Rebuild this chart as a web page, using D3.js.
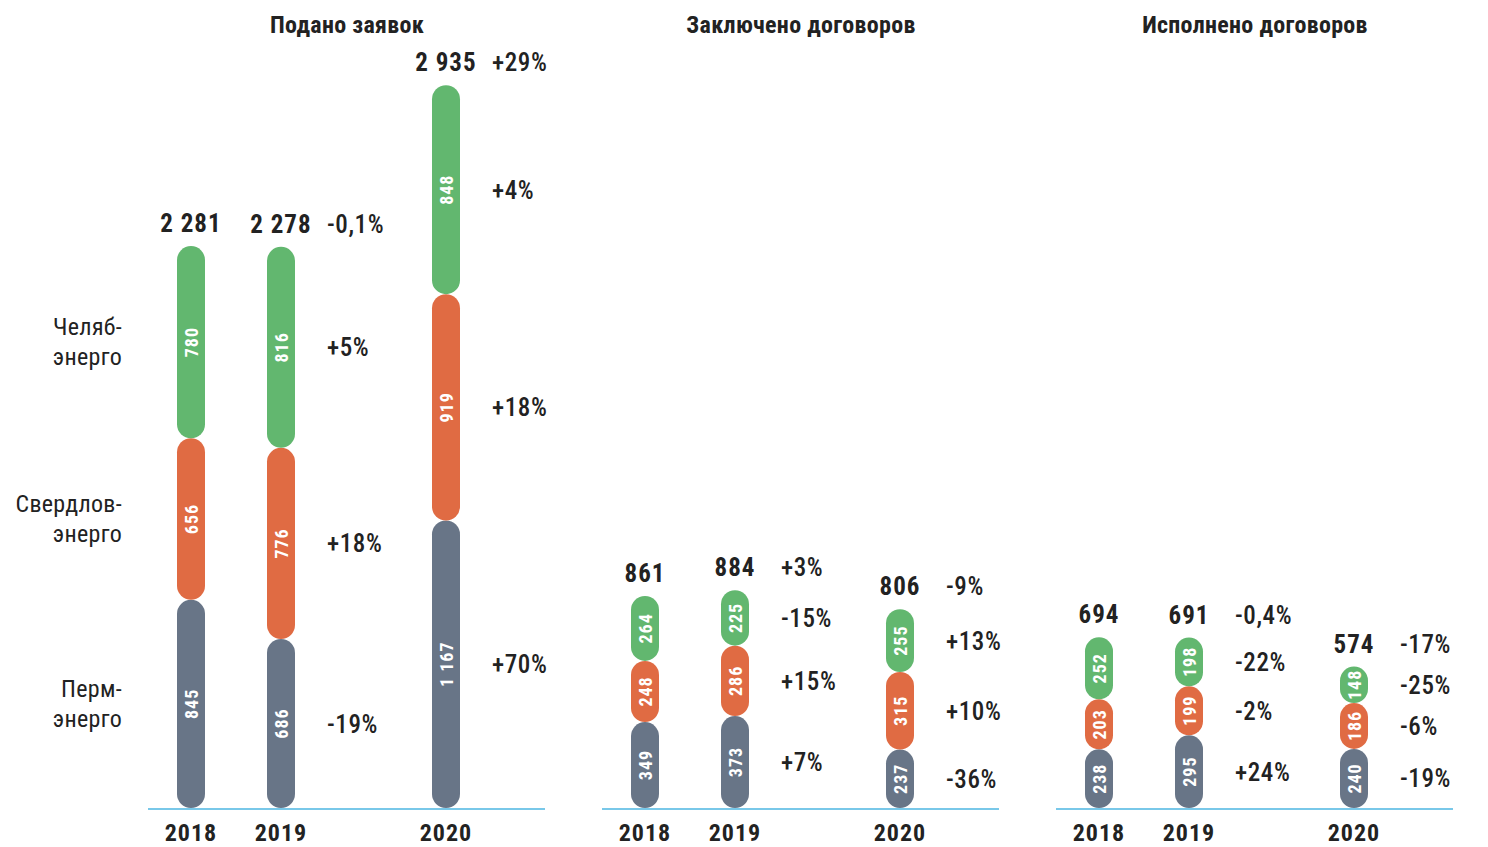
<!DOCTYPE html>
<html>
<head>
<meta charset="utf-8">
<script src="https://cdn.jsdelivr.net/npm/d3@7"></script>
<style>
  body { margin: 0; background: #fff; }
  text { font-family: "Roboto Condensed", "Roboto", sans-serif; }
</style>
</head>
<body>
<div id="chart"></div>
<script>
// panels and categories
var panels = ["Подано заявок", "Заключено договоров", "Исполнено договоров"]
var years = ["2018", "2019", "2020"]
var regions = ["Перм-\nэнерго", "Свердлов-\nэнерго", "Челяб-\nэнерго"]

// values per panel, [year][perm, sverdlov, chelyab]
var zayavki = [[845, 656, 780], [686, 776, 816], [1167, 919, 848]]
var zakl = [[349, 248, 264], [373, 286, 225], [237, 315, 255]]
var ispoln = [[238, 203, 252], [295, 199, 198], [240, 186, 148]]
var totals = [[2281, 2278, 2935], [861, 884, 806], [694, 691, 574]]

// change labels (vs previous year): [perm, sverdlov, chelyab, total]
var zayavkiPct = [null, ["-19%", "+18%", "+5%", "-0,1%"], ["+70%", "+18%", "+4%", "+29%"]]
var zaklPct = [null, ["+7%", "+15%", "-15%", "+3%"], ["-36%", "+10%", "+13%", "-9%"]]
var ispolnPct = [null, ["+24%", "-2%", "-22%", "-0,4%"], ["-19%", "-6%", "-25%", "-17%"]]

var colors = ["#687587", "#e06b43", "#62b76f"]

var data = [zayavki, zakl, ispoln]
var pcts = [zayavkiPct, zaklPct, ispolnPct]

var width = 1488, height = 847
var barW = 28
var panelX = [148, 602, 1056]
var panelW = 397

var svg = d3.select("#chart").append("svg")
    .attr("width", width)
    .attr("height", height)

var y = d3.scaleLinear()
    .domain([0, 2935])
    .range([808, 85])

var x = d3.scaleOrdinal()
    .domain(years)
    .range([43, 133, 298])

var fmt = function (v) {
    return d3.format(",")(v).replace(/,/g, " ")
}

panels.forEach(function (title, p) {
    var g = svg.append("g").attr("transform", "translate(" + panelX[p] + ",0)")

    g.append("text")
        .attr("x", 199)
        .attr("y", 33)
        .attr("text-anchor", "middle")
        .attr("font-size", 24)
        .attr("font-weight", "bold")
        .attr("letter-spacing", 0.3)
        .attr("fill", "#222")
        .text(title)

    years.forEach(function (yr, i) {
        var cx = x(yr)
        var cum = 0
        var vals = data[p][i]
        vals.forEach(function (v, k) {
            var y0 = y(cum), y1 = y(cum + v)
            g.append("rect")
                .attr("x", cx - barW / 2)
                .attr("y", y1)
                .attr("width", barW)
                .attr("height", y0 - y1)
                .attr("rx", barW / 2)
                .attr("fill", colors[k])
            var cy = (y0 + y1) / 2
            g.append("text")
                .attr("transform", "translate(" + (cx + 6.5) + "," + cy + ") rotate(-90)")
                .attr("text-anchor", "middle")
                .attr("font-size", 18)
                .attr("font-weight", "bold")
                .attr("letter-spacing", 1)
                .attr("fill", "#fff")
                .text(fmt(v))
            if (pcts[p][i]) {
                g.append("text")
                    .attr("x", cx + 46)
                    .attr("y", cy + 9)
                    .attr("font-size", 25)
                    .attr("font-weight", 500)
                    .attr("letter-spacing", 0.6)
                    .attr("fill", "#222")
                    .text(pcts[p][i][k])
            }
            cum += v
        })
        var ty = y(totals[p][i]) - 23
        g.append("text")
            .attr("x", cx)
            .attr("y", ty + 9)
            .attr("text-anchor", "middle")
            .attr("font-size", 25)
            .attr("font-weight", "bold")
            .attr("letter-spacing", 1)
            .attr("fill", "#222")
            .text(fmt(totals[p][i]))
        if (pcts[p][i]) {
            g.append("text")
                .attr("x", cx + 46)
                .attr("y", ty + 9)
                .attr("font-size", 25)
                .attr("font-weight", 500)
                .attr("letter-spacing", 0.6)
                .attr("fill", "#222")
                .text(pcts[p][i][3])
        }
        g.append("text")
            .attr("x", cx)
            .attr("y", 841)
            .attr("text-anchor", "middle")
            .attr("font-size", 24)
            .attr("font-weight", "bold")
            .attr("letter-spacing", 1)
            .attr("fill", "#222")
            .text(yr)
    })

    g.append("line")
        .attr("x1", 0)
        .attr("x2", panelW)
        .attr("y1", 809)
        .attr("y2", 809)
        .attr("stroke", "#4cb6e2")
        .attr("stroke-width", 1.5)
})

// region labels next to the first 2018 bar
var cum = 0
zayavki[0].forEach(function (v, k) {
    var cy = (y(cum) + y(cum + v)) / 2
    var lines = regions[k].split("\n")
    var t = svg.append("text")
        .attr("x", 122)
        .attr("y", cy - 15 + 8)
        .attr("text-anchor", "end")
        .attr("font-size", 24)
        .attr("letter-spacing", 0.3)
        .attr("fill", "#222")
    lines.forEach(function (l, j) {
        t.append("tspan").attr("x", 122).attr("dy", j ? 30 : 0).text(l)
    })
    cum += v
})
</script>
</body>
</html>
